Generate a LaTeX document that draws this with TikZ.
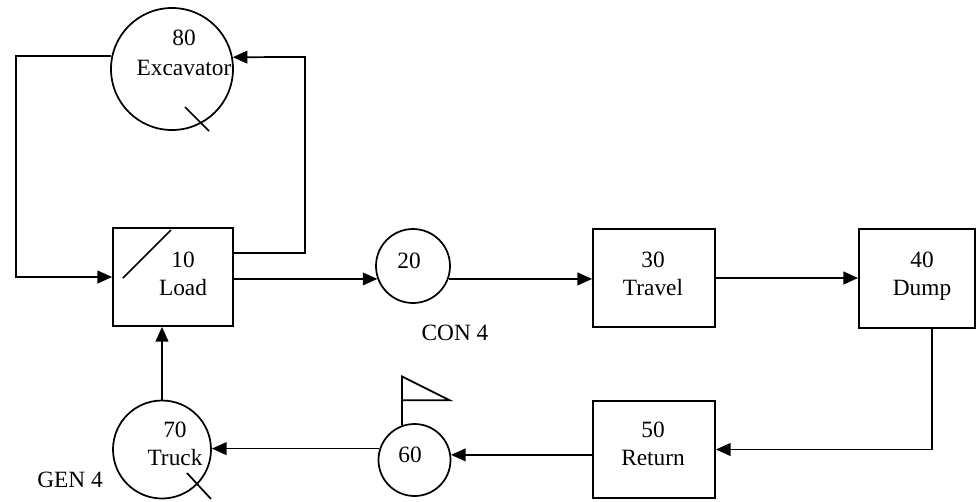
\documentclass[tikz,border=0pt]{standalone}
\usepackage{fontspec}
\setmainfont{Liberation Serif}
\usetikzlibrary{arrows.meta}
\begin{document}
\begin{tikzpicture}[x=0.75pt,y=-0.75pt,
  every node/.style={font=\fontsize{17.5}{21}\selectfont},
  ln/.style={line width=1.3pt},
  arr/.style={line width=1.3pt,-{Triangle[length=11pt,width=9.5pt]}},
  boxnode/.style={draw,line width=1.3pt,rectangle,inner sep=0pt},
  circnode/.style={draw,line width=1.3pt,circle,inner sep=0pt},
  txt/.style={align=center,inner sep=0pt}]
\useasboundingbox[fill=white] (0,0) rectangle (976,501);
% shapes
\node[circnode,minimum size=122*0.75pt] (exc) at (172,69) {};
\node[boxnode,minimum width=120*0.75pt,minimum height=98*0.75pt] (load) at (173,277) {};
\node[circnode,minimum size=74*0.75pt] (c20) at (413,266) {};
\node[boxnode,minimum width=122*0.75pt,minimum height=98*0.75pt] (travel) at (654,278) {};
\node[boxnode,minimum width=116*0.75pt,minimum height=99*0.75pt] (dump) at (917,278.5) {};
\node[boxnode,minimum width=122*0.75pt,minimum height=97*0.75pt] (return) at (654,449.5) {};
\node[circnode,minimum size=72*0.75pt] (c60) at (414.5,460) {};
\node[circnode,minimum size=98*0.75pt] (truck) at (162,449.5) {};
% texts
\node[txt] (texc) at (184,53) {80\\[2pt]Excavator};
\node[txt] (tload) at (183,274) {10\\Load};
\node[txt] (t20) at (409,261) {20};
\node[txt] (ttravel) at (653,274) {30\\Travel};
\node[txt] (tdump) at (922,276) {40\\Dump};
\node[txt] (treturn) at (653,444) {50\\Return};
\node[txt] (t60) at (410,455) {60};
\node[txt] (ttruck) at (175,444) {70\\Truck};
\node[txt] (tcon) at (455,333) {CON 4};
\node[txt] (tgen) at (70,480) {GEN 4};
% helper coordinates
\coordinate (cl) at (16,57);
\coordinate (cr) at (305,57);
% connectors
\draw[arr] (exc.168.7) -| (cl) |- (load.west);
\draw[arr] ([shift={(0,-24)}]load.east) -| (cr) -- (exc.11.3);
\draw[arr] (load.east |- c20.200.6) -- (c20.200.6);
\draw[arr] (c20.-20.6) -- (travel.west |- c20.-20.6);
\draw[arr] (travel.east) -- (dump.west |- travel.east);
\draw[arr] ([shift={(15,0)}]dump.south) |- (return.east);
\draw[arr] (return.west |- c60.8) -- (c60.8);
\draw[arr] (c60.162.2) -- (truck.east |- c60.162.2);
\draw[arr] (truck.north) -- (truck.north |- load.south);
% slashes and flag
\draw[ln] (185,107) -- (209,131);
\draw[ln] (123,278) -- (171,230);
\draw[ln] (187,473) -- (211,499);
\draw[ln,line join=miter] (c60.110.3) -- ++(0,-49) -- ++(48,24) -- ++(-48,0);
\end{tikzpicture}
\end{document}
